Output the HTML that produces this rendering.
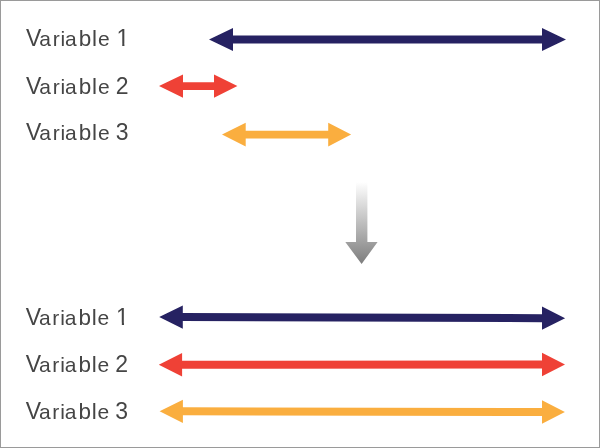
<!DOCTYPE html>
<html><head><meta charset="utf-8"><style>
html,body{margin:0;padding:0;background:#fff;}
body{width:600px;height:448px;overflow:hidden;position:relative;}
svg{position:absolute;left:0;top:0;display:block;will-change:transform;}
text{font-family:"Liberation Sans",sans-serif;font-size:23.0px;fill:#454545;}
</style></head><body>
<svg width="600" height="448" viewBox="0 0 600 448">
<defs><linearGradient id="g" x1="0" y1="182" x2="0" y2="264" gradientUnits="userSpaceOnUse">
<stop offset="0" stop-color="#ffffff"/><stop offset="1" stop-color="#7d7d7d"/></linearGradient></defs>
<rect x="0.5" y="0.5" width="599" height="447" fill="#fff" stroke="#9a9a9a" stroke-width="1"/>
<text y="45.80"><tspan x="26.08" style="font-size:23px">V</tspan><tspan x="39.36" style="font-size:21px">a</tspan><tspan x="52.73" style="font-size:21px">r</tspan><tspan x="60.57" style="font-size:21px">i</tspan><tspan x="65.06" style="font-size:21px">a</tspan><tspan x="78.79" style="font-size:22.5px">b</tspan><tspan x="92.10" style="font-size:22.5px">l</tspan><tspan x="97.88" style="font-size:21px">e</tspan> <tspan x="116.50" style="font-size:23px">1</tspan></text><rect x="116.68" y="43.78" width="5.55" height="2.92" fill="#fff"/><rect x="124.42" y="43.78" width="5.42" height="2.92" fill="#fff"/>
<text y="93.80"><tspan x="26.08" style="font-size:23px">V</tspan><tspan x="39.36" style="font-size:21px">a</tspan><tspan x="52.73" style="font-size:21px">r</tspan><tspan x="60.57" style="font-size:21px">i</tspan><tspan x="65.06" style="font-size:21px">a</tspan><tspan x="78.79" style="font-size:22.5px">b</tspan><tspan x="92.10" style="font-size:22.5px">l</tspan><tspan x="97.88" style="font-size:21px">e</tspan> <tspan x="115.65" style="font-size:23px">2</tspan></text>
<text y="140.20"><tspan x="26.08" style="font-size:23px">V</tspan><tspan x="39.36" style="font-size:21px">a</tspan><tspan x="52.73" style="font-size:21px">r</tspan><tspan x="60.57" style="font-size:21px">i</tspan><tspan x="65.06" style="font-size:21px">a</tspan><tspan x="78.79" style="font-size:22.5px">b</tspan><tspan x="92.10" style="font-size:22.5px">l</tspan><tspan x="97.88" style="font-size:21px">e</tspan> <tspan x="115.77" style="font-size:23px">3</tspan></text>
<text y="324.80"><tspan x="25.68" style="font-size:23px">V</tspan><tspan x="38.96" style="font-size:21px">a</tspan><tspan x="52.33" style="font-size:21px">r</tspan><tspan x="60.17" style="font-size:21px">i</tspan><tspan x="64.66" style="font-size:21px">a</tspan><tspan x="78.39" style="font-size:22.5px">b</tspan><tspan x="91.70" style="font-size:22.5px">l</tspan><tspan x="97.48" style="font-size:21px">e</tspan> <tspan x="116.10" style="font-size:23px">1</tspan></text><rect x="116.28" y="322.78" width="5.55" height="2.92" fill="#fff"/><rect x="124.02" y="322.78" width="5.42" height="2.92" fill="#fff"/>
<text y="372.00"><tspan x="25.68" style="font-size:23px">V</tspan><tspan x="38.96" style="font-size:21px">a</tspan><tspan x="52.33" style="font-size:21px">r</tspan><tspan x="60.17" style="font-size:21px">i</tspan><tspan x="64.66" style="font-size:21px">a</tspan><tspan x="78.39" style="font-size:22.5px">b</tspan><tspan x="91.70" style="font-size:22.5px">l</tspan><tspan x="97.48" style="font-size:21px">e</tspan> <tspan x="115.25" style="font-size:23px">2</tspan></text>
<text y="418.80"><tspan x="25.68" style="font-size:23px">V</tspan><tspan x="38.96" style="font-size:21px">a</tspan><tspan x="52.33" style="font-size:21px">r</tspan><tspan x="60.17" style="font-size:21px">i</tspan><tspan x="64.66" style="font-size:21px">a</tspan><tspan x="78.39" style="font-size:22.5px">b</tspan><tspan x="91.70" style="font-size:22.5px">l</tspan><tspan x="97.48" style="font-size:21px">e</tspan> <tspan x="115.37" style="font-size:23px">3</tspan></text>
<polygon fill="#262262" points="209.00,39.50 233.00,27.95 233.00,35.50 542.00,35.50 542.00,27.95 566.00,39.50 542.00,51.05 542.00,43.50 233.00,43.50 233.00,51.05"/>
<polygon fill="#ef4136" points="159.00,86.10 183.00,74.50 183.00,82.20 214.00,82.20 214.00,74.50 237.40,86.10 214.00,97.70 214.00,90.00 183.00,90.00 183.00,97.70"/>
<polygon fill="#faae3f" points="222.00,134.60 245.70,122.80 245.70,130.70 328.20,130.70 328.20,122.80 351.10,134.60 328.20,146.40 328.20,138.50 245.70,138.50 245.70,146.40"/>
<polygon fill="#262262" points="159.20,317.00 182.80,305.47 182.80,313.07 542.00,314.13 542.00,306.53 565.10,318.20 542.00,329.73 542.00,322.13 182.80,321.07 182.80,328.67"/>
<polygon fill="#ef4136" points="158.80,364.70 182.10,352.99 182.10,360.69 542.00,360.51 542.00,352.81 565.00,364.50 542.00,376.21 542.00,368.51 182.10,368.69 182.10,376.39"/>
<polygon fill="#faae3f" points="159.60,411.30 182.90,399.64 182.90,407.34 542.00,407.96 542.00,400.26 564.90,412.00 542.00,423.66 542.00,415.96 182.90,415.34 182.90,423.04"/>
<polygon fill="url(#g)" points="356,182 367.4,182 367.4,242 377.6,242 361.6,264 345.3,242 356,242"/>
</svg>
</body></html>
